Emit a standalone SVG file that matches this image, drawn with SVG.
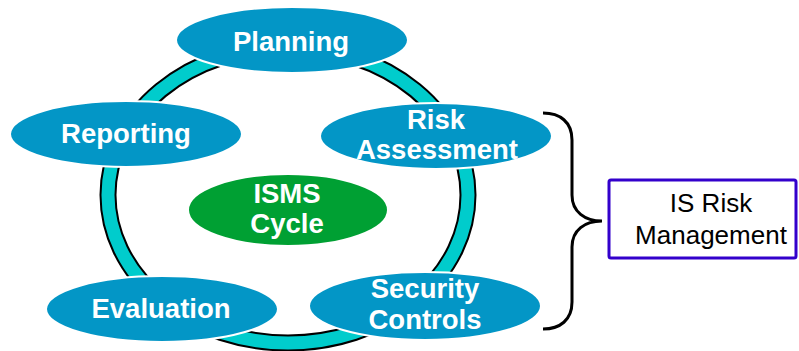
<svg xmlns="http://www.w3.org/2000/svg" width="799" height="351" viewBox="0 0 799 351">
<style>
.node{fill:#0396C6;stroke:#ffffff;stroke-width:2}
.center{fill:#00A033;stroke:#ffffff;stroke-width:2}
.lbl{font-family:"Liberation Sans",Arial,sans-serif;font-weight:bold;font-size:27.5px;fill:#ffffff;text-anchor:middle}
.side{font-family:"Liberation Sans",Arial,sans-serif;font-size:26px;fill:#000000;text-anchor:middle}
</style>
<rect width="799" height="351" fill="#ffffff"/>
<g id="connectors">
  <ellipse cx="288" cy="195" rx="180" ry="148" fill="none" stroke="#000000" stroke-width="17"/>
  <ellipse cx="288" cy="195" rx="180" ry="148" fill="none" stroke="#00CCCC" stroke-width="13"/>
  <path d="M543,113 C560,113 572,122 572,140 L572,195 C572,212 585,221 602,221 C585,221 572,230 572,247 L572,302 C572,320 560,329 543,329" fill="none" stroke="#000000" stroke-width="3"/>
</g>
<g id="planning">
  <ellipse class="node" cx="292" cy="40" rx="116" ry="33"/>
  <text class="lbl" x="291" y="51">Planning</text>
</g>
<g id="reporting">
  <ellipse class="node" cx="126" cy="134" rx="116" ry="33"/>
  <text class="lbl" x="126" y="143">Reporting</text>
</g>
<g id="risk-assessment">
  <ellipse class="node" cx="436" cy="136" rx="116" ry="33"/>
  <text class="lbl" x="436" y="129">Risk</text>
  <text class="lbl" x="437" y="159">Assessment</text>
</g>
<g id="isms-cycle">
  <ellipse class="center" cx="288" cy="210" rx="100" ry="36"/>
  <text class="lbl" x="287" y="203">ISMS</text>
  <text class="lbl" x="287" y="233">Cycle</text>
</g>
<g id="evaluation">
  <ellipse class="node" cx="162" cy="309" rx="116" ry="33"/>
  <text class="lbl" x="161" y="318">Evaluation</text>
</g>
<g id="security-controls">
  <ellipse class="node" cx="425" cy="306" rx="116" ry="34"/>
  <text class="lbl" x="425" y="298">Security</text>
  <text class="lbl" x="425" y="329">Controls</text>
</g>
<g id="is-risk-management">
  <rect x="609" y="180" width="187" height="78" rx="2" fill="#ffffff" stroke="#3300CC" stroke-width="3"/>
  <text class="side" x="711" y="212">IS Risk</text>
  <text class="side" x="711" y="244">Management</text>
</g>
</svg>
